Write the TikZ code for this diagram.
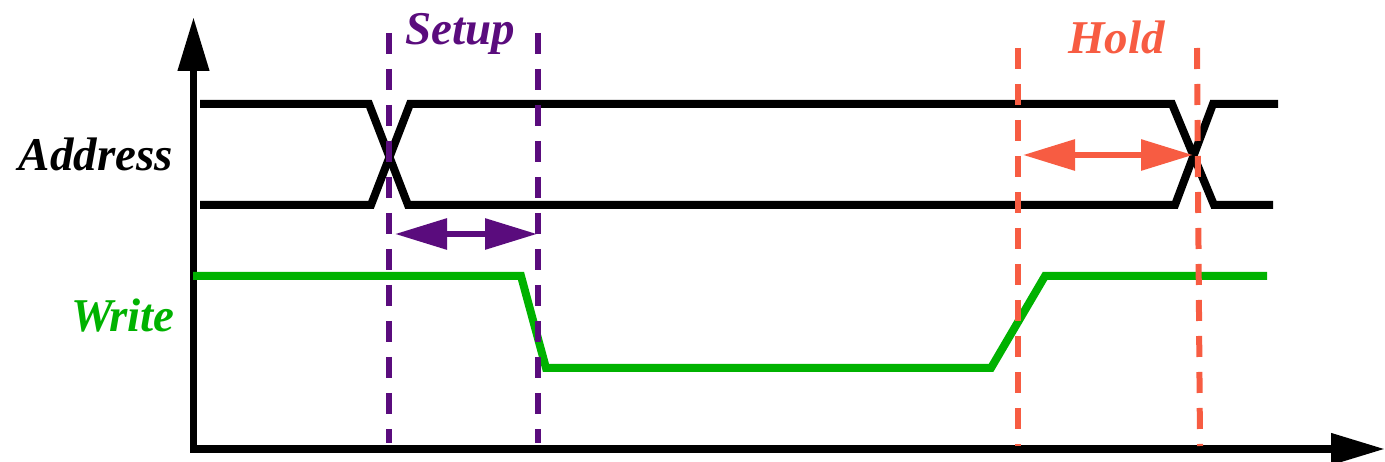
\documentclass[tikz,border=0pt]{standalone}
\usepackage{fontspec}
\setmainfont{Liberation Serif}
\usetikzlibrary{arrows.meta}
\definecolor{setupc}{RGB}{90,12,125}
\definecolor{holdc}{RGB}{247,92,66}
\definecolor{writec}{RGB}{0,178,0}
\tikzset{
  axisline/.style={line width=7.5pt, {Triangle[length=54pt,width=30pt]}-{Triangle[length=54pt,width=30pt]}},
  sigline/.style={line width=8pt, line join=miter},
  guide/.style={line width=6pt, dash pattern=on 21pt off 15pt},
  span/.style={line width=6pt, {Triangle[length=52pt,width=30pt]}-{Triangle[length=52pt,width=30pt]}},
  lbl/.style={inner sep=0pt, font=\fontsize{47}{56}\selectfont\bfseries\itshape}
}
\begin{document}
\begin{tikzpicture}[x=1pt,y=-1pt]
\useasboundingbox (0,0) rectangle (1385,462);
% axes
\coordinate (ytip) at (193.5,17);
\coordinate (O) at (193.5,449);
\coordinate (xtip) at (1385,449);
\draw[axisline, line join=miter] (ytip) -- (O) -- (xtip);
% address bus
\coordinate (a1) at (200,104); \coordinate (a2) at (369,104); \coordinate (a3) at (408,205);
\coordinate (a4) at (1175,205); \coordinate (a5) at (1213,104); \coordinate (a6) at (1278,104);
\coordinate (b1) at (200,205); \coordinate (b2) at (371,205); \coordinate (b3) at (410,104);
\coordinate (b4) at (1172,104); \coordinate (b5) at (1214,205); \coordinate (b6) at (1273,205);
\draw[sigline] (a1) -- (a2) -- (a3) -- (a4) -- (a5) -- (a6);
\draw[sigline] (b1) -- (b2) -- (b3) -- (b4) -- (b5) -- (b6);
% write
\coordinate (w1) at (193,276); \coordinate (w2) at (521,276); \coordinate (w3) at (546,368);
\coordinate (w4) at (991,368); \coordinate (w5) at (1045,276); \coordinate (w6) at (1267,276);
\draw[sigline, writec] (w1) -- (w2) -- (w3) -- (w4) -- (w5) -- (w6);
% setup guides
\coordinate (s1t) at (389,33); \coordinate (s1b) at (389,443);
\coordinate (s2t) at (538,33); \coordinate (s2b) at (538,443);
\draw[guide, setupc] (s1t) -- (s1b);
\draw[guide, setupc] (s2t) -- (s2b);
% hold guides
\coordinate (h1t) at (1018,48); \coordinate (h1b) at (1018,446);
\coordinate (h2t) at (1197,48); \coordinate (h2b) at (1200,446);
\draw[guide, holdc] (h1t) -- (h1b);
\draw[guide, holdc] (h2t) -- (h2b);
% spans
\coordinate (sa) at (395,234); \coordinate (sb) at (537,234);
\draw[span, setupc] (sa) -- (sb);
\coordinate (ha) at (1023,155); \coordinate (hb) at (1193,155);
\draw[span, holdc] (ha) -- (hb);
% labels
\node[lbl, anchor=base east] (addr) at (173,171) {Address};
\node[lbl, anchor=base east, writec] (wr) at (175,332) {Write};
\node[lbl, anchor=base west, setupc] (su) at (405,45) {Setup};
\node[lbl, anchor=base west, holdc] (ho) at (1068,54) {Hold};
\end{tikzpicture}
\end{document}
